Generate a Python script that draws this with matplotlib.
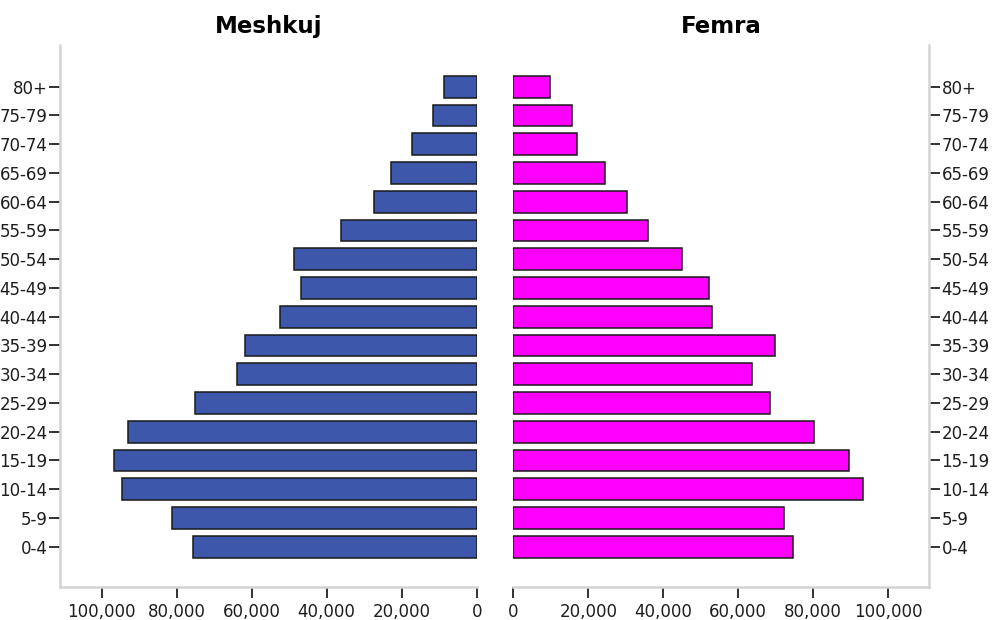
import matplotlib.pyplot as plt
import numpy as np

# grupmoshat nga poshte lart
grupet = ["0-4", "5-9", "10-14", "15-19", "20-24", "25-29", "30-34", "35-39",
          "40-44", "45-49", "50-54", "55-59", "60-64", "65-69", "70-74",
          "75-79", "80+"]

meshkuj = [75650, 81250, 94500, 96800, 93000, 75100, 63900, 61700,
           52450, 46930, 48640, 36100, 27300, 22850, 17250, 11730, 8640]

femra = [74500, 72190, 93330, 89440, 80100, 68530, 63650, 69790,
         52990, 52270, 45070, 35840, 30240, 24530, 17070, 15570, 9790]

xticks = [0, 20000, 40000, 60000, 80000, 100000]
xtick_labels = ["0", "20,000", "40,000", "60,000", "80,000", "100,000"]

W, H = 995, 620
fig = plt.figure(figsize=(W / 100, H / 100), dpi=100)

ax1 = fig.add_axes([60 / W, 1 - 586.7 / H, 416.7 / W, 541.7 / H])
ax2 = fig.add_axes([513.3 / W, 1 - 586.7 / H, 415.7 / W, 541.7 / H])

y = np.arange(len(grupet))
spine_col = "#d4d4d4"
text_col = "#1e1e1e"

ax1.barh(y, meshkuj, height=0.76, color="#3d58ab", edgecolor="#1a1a1a", linewidth=1.1)
ax2.barh(y, femra, height=0.76, color="#ff00ff", edgecolor="#1a1a1a", linewidth=1.1)

ax1.set_xlim(111100, 0)
ax2.set_xlim(0, 110850)

for ax in (ax1, ax2):
    ax.set_ylim(-1.39, 17.45)
    ax.set_yticks(y)
    ax.set_yticklabels(grupet)
    ax.set_xticks(xticks)
    ax.set_xticklabels(xtick_labels)
    ax.spines["top"].set_visible(False)
    for s in ax.spines.values():
        s.set_color(spine_col)
        s.set_linewidth(1.8)
    ax.tick_params(axis="y", length=8, width=1.3, color="#222222", pad=1,
                   labelsize=12, labelcolor=text_col)
    ax.tick_params(axis="x", length=8, width=1.3, color="#222222", pad=4,
                   labelsize=12, labelcolor=text_col)

ax1.spines["right"].set_visible(False)
ax2.spines["left"].set_visible(False)
ax2.yaxis.tick_right()

ax1.set_title("Meshkuj", fontsize=16.5, fontweight="bold", pad=8.6)
ax2.set_title("Femra", fontsize=16.5, fontweight="bold", pad=8.6)

fig.savefig("out.png", dpi=100)
